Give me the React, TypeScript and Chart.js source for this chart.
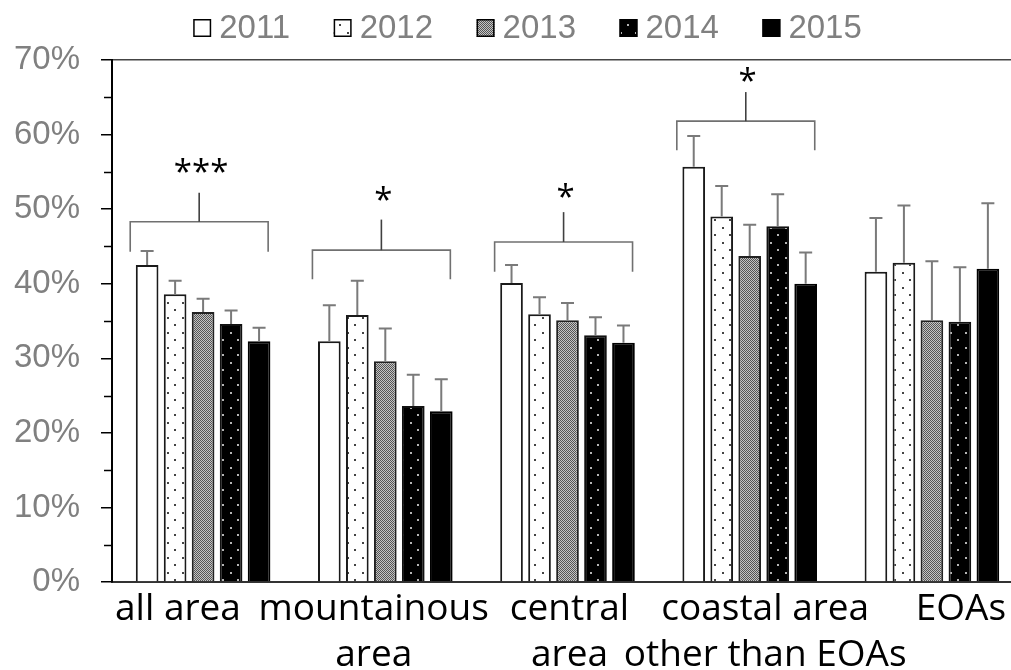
import React, { useEffect, useRef } from "react";
import { Chart, registerables } from "chart.js";

Chart.register(...registerables);

// ---------- data ----------
const categories: (string | string[])[] = [
  "all area",
  ["mountainous", "area"],
  ["central", "area"],
  ["coastal area", "other than EOAs"],
  "EOAs",
];
const years = ["2011", "2012", "2013", "2014", "2015"];

const values2011 = [42.5, 32.3, 40.1, 55.7, 41.6];
const values2012 = [38.6, 35.8, 35.9, 49.0, 42.8];
const values2013 = [36.2, 29.6, 35.1, 43.7, 35.1];
const values2014 = [34.6, 23.6, 33.1, 47.7, 34.9];
const values2015 = [32.3, 22.9, 32.1, 40.0, 42.0];

const err2011 = [1.9, 4.8, 2.4, 4.1, 7.2];
const err2012 = [1.8, 4.6, 2.3, 4.1, 7.7];
const err2013 = [1.8, 4.4, 2.3, 4.2, 7.9];
const err2014 = [1.8, 4.2, 2.4, 4.3, 7.3];
const err2015 = [1.8, 4.3, 2.3, 4.2, 8.8];

// significance brackets (groups 0..3), in % units
const bracketLevels = [48.3, 44.5, 45.6, 61.8];
const bracketLegBottoms = [44.3, 40.6, 41.6, 57.9];
const bracketStemTops = [52.2, 48.6, 49.6, 65.7];
const starLevels = [56.0, 52.3, 52.7, 68.2];
const starLabels = ["***", "*", "*", "*"];

const yTickValues = [0, 10, 20, 30, 40, 50, 60, 70];

// ---------- patterns ----------
function makePattern(size: number, draw: (c: CanvasRenderingContext2D) => void) {
  const c = document.createElement("canvas");
  c.width = size;
  c.height = size;
  const cx = c.getContext("2d")!;
  draw(cx);
  return cx.createPattern(c, "repeat") as CanvasPattern;
}

const W = 1035;
const H = 670;

export default function App() {
  const ref = useRef<HTMLCanvasElement>(null);

  useEffect(() => {
    document.documentElement.style.overflow = "hidden";
    document.body.style.margin = "0";
    document.body.style.overflow = "hidden";

    const p2012 = makePattern(15, (c) => {
      c.fillStyle = "#ffffff";
      c.fillRect(0, 0, 15, 15);
      c.fillStyle = "#444444";
      c.fillRect(2, 2, 2, 2);
      c.fillRect(9, 9, 2, 2);
    });
    const p2013 = makePattern(2, (c) => {
      c.fillStyle = "#c4c4c4";
      c.fillRect(0, 0, 2, 2);
      c.fillStyle = "#555555";
      c.fillRect(0, 0, 1, 1);
      c.fillRect(1, 1, 1, 1);
    });
    const p2014 = makePattern(15, (c) => {
      c.fillStyle = "#000000";
      c.fillRect(0, 0, 15, 15);
      c.fillStyle = "#b5b5b5";
      c.fillRect(5, 2, 2, 2);
      c.fillRect(12, 9, 2, 2);
    });

    const fills: (string | CanvasPattern)[] = ["#ffffff", p2012, p2013, p2014, "#000000"];
    const borders = ["#1a1a1a", "#1a1a1a", "#222222", "#111111", "#000000"];
    const seriesValues = [values2011, values2012, values2013, values2014, values2015];
    const seriesErrors = [err2011, err2012, err2013, err2014, err2015];

    const annotationsPlugin = {
      id: "annotations",
      afterDatasetsDraw(chart: any) {
        const ctx: CanvasRenderingContext2D = chart.ctx;
        const ys = chart.scales.y;
        const xs = chart.scales.x;
        ctx.save();
        // error bars
        ctx.strokeStyle = "#7a7a7a";
        ctx.lineWidth = 2;
        seriesValues.forEach((vals, d) => {
          const meta = chart.getDatasetMeta(d);
          vals.forEach((v, i) => {
            const bar = meta.data[i];
            const x = bar.x;
            const y0 = ys.getPixelForValue(v);
            const y1 = ys.getPixelForValue(v + seriesErrors[d][i]);
            ctx.beginPath();
            ctx.moveTo(x, y0);
            ctx.lineTo(x, y1);
            ctx.moveTo(x - 6.5, y1);
            ctx.lineTo(x + 6.5, y1);
            ctx.stroke();
          });
        });
        // brackets
        const cw = xs.getPixelForValue(1) - xs.getPixelForValue(0);
        bracketLevels.forEach((lvl, i) => {
          const c = xs.getPixelForValue(i);
          const xl = c - 0.4 * cw;
          const xr = c + 0.357 * cw;
          const xm = (xl + xr) / 2;
          const yb = ys.getPixelForValue(lvl);
          const yLeg = ys.getPixelForValue(bracketLegBottoms[i]);
          const yStem = ys.getPixelForValue(bracketStemTops[i]);
          ctx.strokeStyle = "#707070";
          ctx.lineWidth = 1.6;
          ctx.beginPath();
          ctx.moveTo(xl, yLeg);
          ctx.lineTo(xl, yb);
          ctx.lineTo(xr, yb);
          ctx.lineTo(xr, yLeg);
          ctx.stroke();
          ctx.strokeStyle = "#404040";
          ctx.beginPath();
          ctx.moveTo(xm, yb);
          ctx.lineTo(xm, yStem);
          ctx.stroke();
          ctx.fillStyle = "#000000";
          ctx.font = "33px 'Open Sans'";
          ctx.textAlign = "center";
          ctx.textBaseline = "alphabetic";
          const ys0 = ys.getPixelForValue(starLevels[i]);
          ctx.fillText(starLabels[i], c - 2, ys0 + 0.57 * 33);
        });
        // minor ticks
        ctx.strokeStyle = "#000000";
        ctx.lineWidth = 1.5;
        for (let k = 0; k < yTickValues.length - 1; k++) {
          const v = (yTickValues[k] + yTickValues[k + 1]) / 2;
          const y = Math.round(ys.getPixelForValue(v)) + 0.5;
          ctx.beginPath();
          ctx.moveTo(chart.chartArea.left - 8, y);
          ctx.lineTo(chart.chartArea.left, y);
          ctx.stroke();
        }
        ctx.restore();
      },
    };

    const legendPlugin = {
      id: "customLegend",
      afterDraw(chart: any) {
        const ctx: CanvasRenderingContext2D = chart.ctx;
        ctx.save();
        ctx.font = "33px 'Liberation Sans'";
        const box = 18;
        const gap = 8;
        const spacing = 43.5;
        const widths = years.map((t) => box + gap + ctx.measureText(t).width);
        const total = widths.reduce((a, b) => a + b, 0) + spacing * (years.length - 1);
        let x = chart.width / 2 + 10 - total / 2;
        const baseY = 37.5;
        years.forEach((t, i) => {
          ctx.fillStyle = fills[i] as any;
          ctx.fillRect(x, 19, box, box);
          ctx.strokeStyle = "#000000";
          ctx.lineWidth = 1.5;
          ctx.strokeRect(x + 0.75, 19.75, box - 1.5, box - 1.5);
          ctx.fillStyle = "#808080";
          ctx.textAlign = "left";
          ctx.textBaseline = "alphabetic";
          ctx.fillText(t, x + box + gap, baseY);
          x += widths[i] + spacing;
        });
        ctx.restore();
      },
    };

    const chart = new Chart(ref.current!, {
      type: "bar",
      data: {
        labels: categories as any,
        datasets: years.map((y, d) => ({
          label: y,
          data: seriesValues[d],
          backgroundColor: fills[d] as any,
          borderColor: borders[d],
          borderWidth: 2,
          categoryPercentage: 0.768,
          barPercentage: 0.81,
        })),
      },
      options: {
        responsive: false,
        animation: false,
        layout: { padding: { top: 60, right: 12, left: 0, bottom: 0 } },
        plugins: {
          legend: { display: false },
          tooltip: { enabled: false },
        },
        scales: {
          x: {
            type: "category",
            weight: 0,
            ticks: { display: false },
            grid: { display: false },
            border: { display: true, color: "#333333", width: 2 },
            afterFit: (s: any) => {
              s.height = 0;
            },
          },
          x2: {
            type: "linear",
            position: "bottom",
            weight: 1,
            offset: false,
            min: -0.337,
            max: 4.317,
            bounds: "data",
            afterBuildTicks: (s: any) => {
              s.ticks = categories.map((_, i) => ({ value: i }));
            },
            ticks: {
              callback: (_v: any, i: number) => categories[i] as any,
              font: { family: "'Open Sans'", size: 37, lineHeight: 1.25 },
              color: "#000000",
              padding: -4,
              maxRotation: 0,
              minRotation: 0,
              autoSkip: false,
            },
            grid: { display: false, offset: false },
            border: { display: false },
            afterFit: (s: any) => {
              s.height = 88;
              s.paddingLeft = 0;
              s.paddingRight = 0;
            },
          },
          y: {
            min: 0,
            max: 70,
            afterBuildTicks: (s: any) => {
              s.ticks = yTickValues.map((v) => ({ value: v }));
            },
            ticks: {
              callback: (v: any) => v + "%",
              font: { family: "'Liberation Sans'", size: 33 },
              color: "#808080",
              padding: 21,
            },
            grid: {
              drawOnChartArea: true,
              drawTicks: true,
              tickLength: 11,
              tickWidth: 1.5,
              tickColor: "#000000",
              lineWidth: 1.5,
              color: (c: any) => (c.tick && c.tick.value === 70 ? "#444444" : "rgba(0,0,0,0)"),
            },
            border: { display: true, color: "#000000", width: 2 },
            afterFit: (s: any) => {
              s.width = 112;
            },
          },
        },
      },
      plugins: [annotationsPlugin, legendPlugin],
    });

    return () => chart.destroy();
  }, []);

  return (
    <div style={{ position: "relative", width: W, height: H }}>
      <canvas ref={ref} width={W} height={H} style={{ display: "block", width: W, height: H }} />
    </div>
  );
}
